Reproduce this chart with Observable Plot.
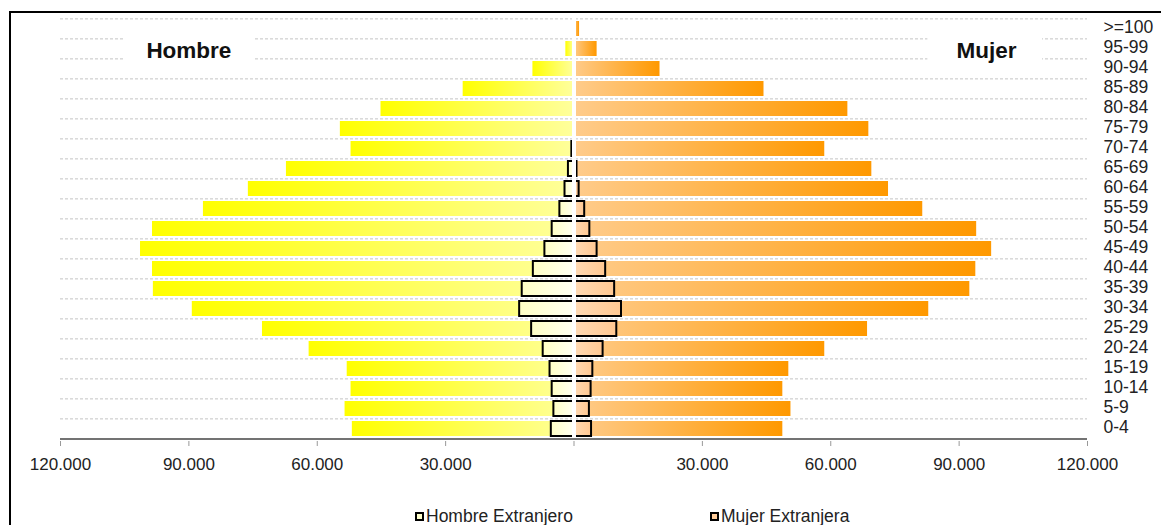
<!DOCTYPE html>
<html><head><meta charset="utf-8">
<script src="https://cdn.jsdelivr.net/npm/d3@7"></script>
<script src="https://cdn.jsdelivr.net/npm/@observablehq/plot@0.6"></script>
<style>
body{margin:0;background:#fff;font-family:"Liberation Sans",Arial,sans-serif;}
#wrap{position:relative;width:1161px;height:525px;overflow:hidden;background:#fff;}
#frame{position:absolute;left:9px;top:11px;width:1300px;height:700px;border-top:2px solid #000;border-left:2px solid #000;}
#chart{position:absolute;left:0;top:0;}
#legend{position:absolute;top:507px;left:0;width:1161px;height:18px;font-size:17.5px;color:#222;}
.item{position:absolute;top:0;display:flex;align-items:center;line-height:18px;}
.sw{width:5px;height:5px;border:2px solid #000;margin-right:2px;}
</style></head>
<body>
<svg width="0" height="0" style="position:absolute">
<defs>
<linearGradient id="gM" x1="0" x2="1" y1="0" y2="0"><stop offset="0" stop-color="#ffff00"/><stop offset="1" stop-color="#ffff9c"/></linearGradient>
<linearGradient id="gF" x1="0" x2="1" y1="0" y2="0"><stop offset="0" stop-color="#ffcc8c"/><stop offset="1" stop-color="#ff9900"/></linearGradient>
<linearGradient id="gME" x1="0" x2="1" y1="0" y2="0"><stop offset="0" stop-color="#ffffc4"/><stop offset="1" stop-color="#fffff2"/></linearGradient>
<linearGradient id="gFE" x1="0" x2="1" y1="0" y2="0"><stop offset="0" stop-color="#ffdab4"/><stop offset="1" stop-color="#ffc892"/></linearGradient>
</defs></svg>
<div id="wrap">
  <div id="frame"></div>
  <div id="chart"></div>
  <div id="legend">
    <div class="item" style="left:415px"><div class="sw" style="background:#ffffcc"></div>Hombre Extranjero</div>
    <div class="item" style="left:710px"><div class="sw" style="background:#ffcc99"></div>Mujer Extranjera</div>
  </div>
</div>
<script>
const ages = [">=100","95-99","90-94","85-89","80-84","75-79","70-74","65-69","60-64","55-59","50-54","45-49","40-44","35-39","30-34","25-29","20-24","15-19","10-14","5-9","0-4"];
const hombre = [150, 1900, 9600, 25900, 45100, 54600, 52100, 67200, 76100, 86600, 98500, 101300, 98500, 98300, 89200, 72800, 61900, 53000, 52100, 53500, 51800];
const mujer = [1300, 5400, 20100, 44400, 64000, 68900, 58600, 69600, 73500, 81500, 94100, 97600, 93900, 92500, 82900, 68600, 58600, 50200, 48800, 50700, 48800];
const hombreExt = [0, 0, 0, 0, 0, 0, 500, 1300, 2100, 3300, 5100, 6800, 9500, 12100, 12700, 9900, 7200, 5600, 5100, 4700, 5300];
const mujerExt = [0, 0, 0, 0, 0, 0, 300, 700, 1200, 2500, 3700, 5400, 7400, 9500, 11100, 10000, 6800, 4400, 4000, 3600, 4100];
const xTicks = [-120000, -90000, -60000, -30000, 0, 30000, 60000, 90000, 120000];
const sexLabels = [
  {text: "Hombre", x: -90000, x1: -104800, x2: -74700, y: "95-99"},
  {text: "Mujer", x: 96400, x1: 82700, x2: 109500, y: "95-99"}
];

const W = 1161, H = 479, mT = 16, mB = 38, mL = 60, mR = 74;
const step = (H - mT - mB) / ages.length;
const fmt = d => d === 0 ? "" : Math.abs(d).toLocaleString("de-DE");

const rows = ages.map((a, i) => ({age: a, h: hombre[i], m: mujer[i], he: hombreExt[i], me: mujerExt[i]}));

const chart = Plot.plot({
  width: W, height: H,
  marginTop: mT, marginBottom: mB, marginLeft: mL, marginRight: mR,
  style: {fontFamily: '"Liberation Sans", Arial, sans-serif', background: "transparent"},
  x: {domain: [-120000, 120000], axis: null},
  y: {domain: ages, paddingInner: 0.25, paddingOuter: 0.125, axis: null},
  marks: [
    Plot.ruleY(ages, {y: d => d, dy: -step / 2, stroke: "#c4c4c4", strokeDasharray: "3,2", strokeWidth: 1}),
    Plot.barX(sexLabels, {x1: "x1", x2: "x2", y: "y", fill: "white", insetTop: -5, insetBottom: -5}),
    Plot.text(sexLabels, {x: "x", y: "y", text: "text", dy: 2, fontSize: 22.5, fontWeight: "bold", fill: "#111"}),
    Plot.barX(rows.filter(d => d.h > 0), {x1: 0, x2: d => -d.h, y: "age", fill: "url(#gM)"}),
    Plot.barX(rows.filter(d => d.m > 0), {x1: 0, x2: "m", y: "age", fill: "url(#gF)"}),
    Plot.barX(rows.filter(d => d.he > 0), {x1: 0, x2: d => -d.he, y: "age", fill: "url(#gME)", stroke: "#000", strokeWidth: 2}),
    Plot.barX(rows.filter(d => d.me > 0), {x1: 0, x2: "me", y: "age", fill: "url(#gFE)", stroke: "#000", strokeWidth: 2}),
    Plot.ruleX([0], {stroke: "white", strokeWidth: 4}),
    Plot.ruleY([ages[ages.length - 1]], {y: d => d, dy: step / 2, stroke: "#444", strokeWidth: 1.5}),
    Plot.axisX({ticks: xTicks, tickFormat: fmt, tickSize: 5, tickPadding: 11, fontSize: 17, stroke: "#999", fill: "#222"}),
    Plot.axisY({anchor: "right", tickSize: 0, tickPadding: 16, fontSize: 17.5, dy: -1.5, fill: "#222", label: null})
  ]
});
document.getElementById("chart").appendChild(chart);
</script>
</body></html>
